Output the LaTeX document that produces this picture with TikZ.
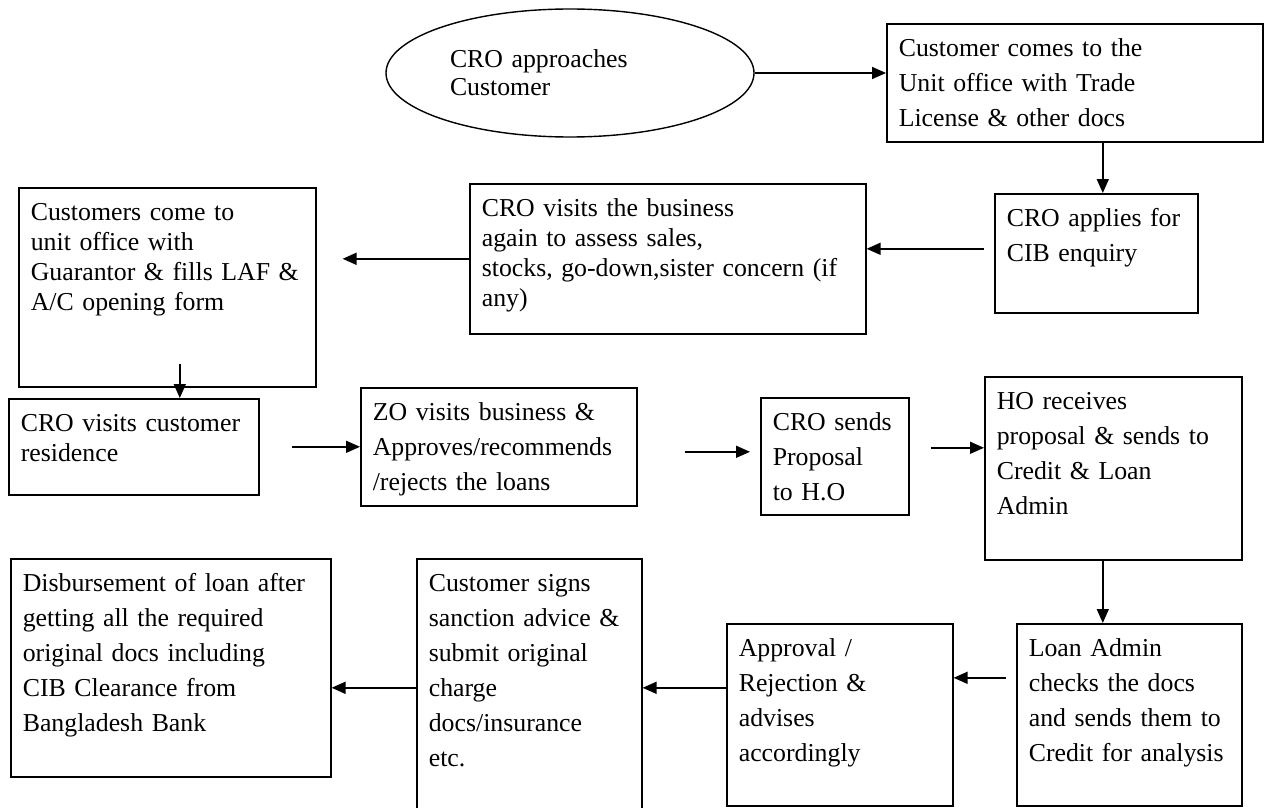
\documentclass[tikz,border=0pt]{standalone}
\usepackage{fontspec}
\setmainfont{Liberation Serif}
\usepackage{tikz}
\usetikzlibrary{arrows.meta,shapes.geometric,positioning}

\newcommand{\boxfont}{\fontsize{25.8}{35}\selectfont}
\newcommand{\tightfont}{\fontsize{25.8}{30}\selectfont}

\begin{document}
\begin{tikzpicture}[>={Triangle[length=14pt,width=12pt]}, x=1pt, y=-1pt,
  stepbox/.style={draw, line width=1.6pt, anchor=north west, align=left,
    inner xsep=12pt, inner ysep=0pt, text height=33pt, font=\boxfont},
  link/.style={->, line width=1.6pt}]
  \useasboundingbox (0,0) rectangle (1264,808);

  \node[ellipse, draw, line width=1.4pt, minimum width=368pt, minimum height=128pt,
    text width=240pt, align=left, inner sep=3pt,
    font=\fontsize{25.8}{28}\selectfont] (start) at (570,73) {CRO approaches\\Customer};
  \node[stepbox, text width=352pt, text depth=85pt] (tradedocs) at (886,23)
    {Customer comes to the\\Unit office with Trade\\License \& other docs};
  \node[stepbox, text width=179pt, text depth=86pt] (cib) at (994,193)
    {CRO applies for\\CIB enquiry};
  \node[stepbox, text width=372pt, text depth=117pt, font=\tightfont] (assess) at (469,183)
    {CRO visits the business\\again to assess sales,\\stocks, go-down,sister concern (if\\any)};
  \node[stepbox, text width=273pt, text depth=166pt, font=\tightfont] (guarantor) at (18,187)
    {Customers come to\\unit office with\\Guarantor \& fills LAF \&\\A/C opening form};
  \node[stepbox, text width=226pt, text depth=63pt, font=\tightfont] (residence) at (8,398)
    {CRO visits customer\\residence};
  \node[stepbox, text width=252pt, text depth=85pt] (zonal) at (360,387)
    {ZO visits business \&\\Approves/recommends\\/rejects the loans};
  \node[stepbox, text width=124pt, text depth=84pt] (proposal) at (760,397)
    {CRO sends\\Proposal\\to H.O};
  \node[stepbox, text width=233pt, text depth=150pt] (headoffice) at (984,376)
    {HO receives\\proposal \& sends to\\Credit \& Loan\\Admin};
  \node[stepbox, text width=201pt, text depth=149pt] (loanadmin) at (1016,623)
    {Loan Admin\\checks the docs\\and sends them to\\Credit for analysis};
  \node[stepbox, text width=202pt, text depth=149pt] (verdict) at (726,623)
    {Approval /\\Rejection \&\\advises\\accordingly};
  \node[stepbox, text width=201pt, text depth=229pt] (sanction) at (416,558)
    {Customer signs\\sanction advice \&\\submit original\\charge\\docs/insurance\\etc.};
  \node[stepbox, text width=296pt, text depth=185pt] (disburse) at (10,558)
    {Disbursement of loan after\\getting all the required\\original docs including\\CIB Clearance from\\Bangladesh Bank};

  \draw[link] (start.east) -- (start.east -| tradedocs.west);
  \draw[link] ([xshift=6.5pt]cib.north |- tradedocs.south) -- ([xshift=6.5pt]cib.north);
  \draw[link, shorten <=10pt] ([yshift=4.5pt]cib.west) -- ([yshift=4.5pt]cib.west -| assess.east);
  \draw[link, shorten >=26pt] (assess.west) -- (assess.west -| guarantor.east);
  \draw[link] ([shift={(12.5pt,24pt)}]guarantor.south) -- ([xshift=12.5pt]guarantor.south |- residence.north);
  \draw[link, shorten <=32pt] (residence.east) -- (residence.east -| zonal.west);
  \draw[link, shorten <=47pt, shorten >=10pt] ([yshift=-5pt]zonal.east) -- ([yshift=-5pt]zonal.east -| proposal.west);
  \draw[link, shorten <=21pt] ([yshift=8.5pt]proposal.east) -- ([yshift=8.5pt]proposal.east -| headoffice.west);
  \draw[link] ([xshift=-10.5pt]headoffice.south) -- ([xshift=-10.5pt]headoffice.south |- loanadmin.north);
  \draw[link, shorten <=10pt] ([yshift=37pt]loanadmin.west) -- ([yshift=37pt]loanadmin.west -| verdict.east);
  \draw[link] ([yshift=27pt]verdict.west) -- ([yshift=27pt]verdict.west -| sanction.east);
  \draw[link] ([yshift=2pt]sanction.west) -- ([yshift=2pt]sanction.west -| disburse.east);
\end{tikzpicture}
\end{document}
